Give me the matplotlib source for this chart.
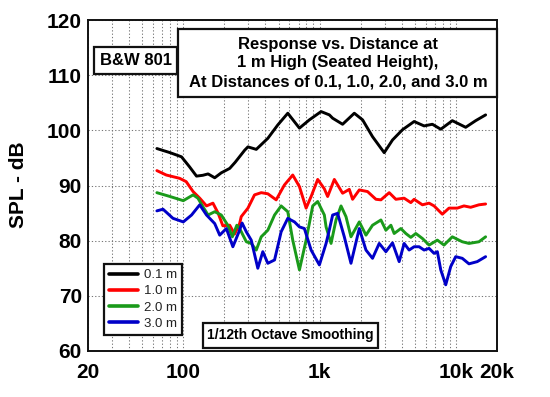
import matplotlib
matplotlib.use("Agg")
import matplotlib.pyplot as plt
from matplotlib.patches import Rectangle
from matplotlib.ticker import FixedLocator, NullFormatter, FixedFormatter

plt.rcParams['font.family'] = ['Liberation Sans', 'DejaVu Sans']

# ---------------- data ----------------
f_01 = [64, 80, 97, 111, 125, 139, 152, 170, 190, 219, 240, 282, 298, 343, 417, 493, 584,
        711, 841, 1025, 1179, 1246, 1474, 1796, 2066, 2444, 2976, 3424, 4050, 4934, 5838,
        6714, 7736, 9404, 11784, 13946, 16504]
db_01 = [96.7, 95.95, 95.2, 93.4, 91.7, 91.85, 92.1, 91.4, 92.3, 93.1, 94.2, 96.4, 97.0, 96.55,
         98.55, 100.97, 103.1, 100.4, 101.9, 103.4, 102.8, 102.2, 101.1, 103.1, 101.9, 98.85,
         95.95, 98.25, 100.1, 101.6, 100.8, 101.1, 100.2, 101.75, 100.55, 101.75, 102.8]

f_10 = [64, 75, 94, 105, 118, 132, 148, 165, 180, 195, 219, 238, 259, 266, 298, 333, 373, 417,
        480, 552, 635, 711, 796, 866, 968, 1083, 1145, 1282, 1474, 1651, 1745, 1954, 2246,
        2588, 2816, 3238, 3624, 4168, 4666, 4934, 5674, 6352, 6908, 7304, 7944, 8894, 10228,
        11450, 12820, 14744, 16504]
db_10 = [92.7, 91.9, 91.3, 90.7, 88.9, 87.7, 86.3, 86.8, 85.0, 82.7, 82.8, 81.2, 83.1, 84.35,
         85.9, 88.3, 88.7, 88.5, 87.4, 90.1, 91.9, 89.8, 85.9, 88.0, 91.1, 89.4, 88.0, 91.1,
         88.6, 89.3, 87.5, 89.2, 88.9, 87.5, 87.4, 88.7, 87.5, 87.7, 86.9, 87.5, 86.5, 86.8,
         86.3, 85.7, 84.8, 85.9, 85.9, 86.3, 86.05, 86.5, 86.65]

f_20 = [64, 80, 100, 118, 128, 139, 152, 170, 190, 212, 229, 247, 259, 290, 315, 343, 373, 417,
        467, 522, 584, 635, 711, 796, 890, 968, 1083, 1115, 1213, 1319, 1435, 1561, 1698, 1954,
        2187, 2444, 2816, 3062, 3332, 3522, 3944, 4290, 4666, 5076, 5674, 6352, 7304, 8176,
        9404, 11128, 12458, 14744, 16504]
db_20 = [88.7, 88.0, 87.25, 88.3, 87.7, 86.2, 84.65, 85.25, 84.65, 82.8, 80.7, 82.8, 82.2, 79.8,
         79.5, 78.3, 80.7, 81.9, 84.65, 86.3, 85.25, 80.1, 74.7, 80.1, 86.3, 87.1, 84.65, 82.5,
         79.5, 83.75, 86.3, 84.35, 80.7, 83.4, 81.0, 82.8, 83.75, 81.9, 82.8, 81.3, 82.2, 81.3,
         80.6, 81.3, 80.4, 79.2, 80.1, 79.2, 80.7, 79.8, 79.5, 79.8, 80.7]

f_30 = [64, 71, 84, 100, 115, 132, 148, 170, 185, 207, 231, 256, 270, 290, 315, 352, 383, 417,
        467, 522, 584, 654, 711, 773, 866, 996, 1115, 1179, 1246, 1355, 1517, 1698, 1954, 2187,
        2444, 2736, 3062, 3424, 3832, 4168, 4534, 4934, 5368, 5838, 6352, 6908, 7304, 7736,
        8414, 9152, 9958, 11128, 12458, 14326, 16504]
db_30 = [85.4, 85.7, 84.05, 83.4, 84.65, 86.5, 84.65, 83.1, 81.0, 82.2, 78.9, 81.6, 83.2, 81.6,
         80.1, 75.0, 78.0, 75.9, 76.5, 81.6, 84.05, 83.4, 82.5, 82.2, 78.3, 75.6, 79.5, 82.0,
         84.65, 84.95, 80.7, 75.9, 82.2, 78.3, 76.8, 79.5, 78.0, 79.6, 76.2, 79.5, 78.3, 78.9,
         78.9, 78.3, 78.6, 77.7, 78.0, 74.7, 72.0, 75.3, 77.1, 76.8, 75.8, 76.2, 77.1]

labels = ["0.1 m", "1.0 m", "2.0 m", "3.0 m"]
colors = ["#000000", "#ff0000", "#1a9a1a", "#0000c8"]

x_ticks = [20, 100, 1000, 10000, 20000]
x_tick_labels = ["20", "100", "1k", "10k", "20k"]
y_ticks = [60, 70, 80, 90, 100, 110, 120]

W, H = 550, 397
fig = plt.figure(figsize=(W / 100, H / 100), dpi=100)
fig.patch.set_facecolor("white")


def fx(px):
    return px / W


def fy(py):
    return 1 - py / H


ax = fig.add_axes([fx(88), fy(351), fx(497) - fx(88), fy(20) - fy(351)])
for f, d, c, lab in zip([f_01, f_10, f_20, f_30], [db_01, db_10, db_20, db_30], colors, labels):
    ax.plot(f, d, color=c, lw=2.1, label=lab, solid_joinstyle="round", solid_capstyle="round")

ax.set_xscale("log")
ax.set_xlim(20, 20000)
ax.set_ylim(60, 120)
ax.xaxis.set_major_locator(FixedLocator(x_ticks))
ax.xaxis.set_major_formatter(FixedFormatter(x_tick_labels))
minor = [m * 10 ** e for e in range(1, 5) for m in range(2, 10)]
minor = [v for v in minor if 20 < v < 20000 and v not in x_ticks]
ax.xaxis.set_minor_locator(FixedLocator(minor))
ax.xaxis.set_minor_formatter(NullFormatter())
ax.set_yticks(y_ticks)
ax.grid(True, which="both", axis="x", linestyle=(0, (1.2, 2.0)), color="#777777", lw=0.75)
ax.grid(True, which="major", axis="y", linestyle=(0, (1.2, 2.0)), color="#777777", lw=0.75)
ax.tick_params(which="both", length=0)
ax.tick_params(axis="x", pad=8.5, labelsize=15)
ax.tick_params(axis="y", pad=4.5, labelsize=15)
for lb in ax.get_xticklabels() + ax.get_yticklabels():
    lb.set_fontweight("bold")
for s in ax.spines.values():
    s.set_linewidth(1.4)
    s.set_color("#111111")

fig.text(fx(19), fy(185), "SPL - dB", rotation=90, ha="center", va="center",
         fontsize=15, fontweight="bold")


def box(x0, y0, x1, y1, lw=1.6):
    r = Rectangle((fx(x0), fy(y1)), fx(x1) - fx(x0), fy(y0) - fy(y1),
                  transform=fig.transFigure, facecolor="white", edgecolor="#111111",
                  lw=lw, zorder=5)
    fig.add_artist(r)


# title box
box(178, 29, 497, 97)
title_lines = ["Response vs. Distance at", "1 m High (Seated Height),",
               "At Distances of 0.1, 1.0, 2.0, and 3.0 m"]
for i, t in enumerate(title_lines):
    fig.text(fx(338), fy(44 + 19 * i), t, ha="center", va="center", fontsize=12,
             fontweight="bold", zorder=6)

# model box
box(94, 47, 177, 74)
fig.text(fx(135.5), fy(60.5), "B&W 801", ha="center", va="center", fontsize=12,
         fontweight="bold", zorder=6)

# smoothing box
box(203, 323, 378, 348)
fig.text(fx(290.5), fy(335.5), "1/12th Octave Smoothing", ha="center", va="center",
         fontsize=10, fontweight="bold", zorder=6)

leg = ax.legend(loc="lower left", bbox_to_anchor=(fx(104), fy(335)),
                bbox_transform=fig.transFigure, fontsize=9.5, frameon=True,
                fancybox=False, framealpha=1, edgecolor="#111111", handlelength=2.2,
                handletextpad=0.4, labelspacing=0.3, borderpad=0.4, borderaxespad=0,
                handleheight=0.7)
leg.get_frame().set_linewidth(1.6)
for t in leg.get_texts():
    t.set_color("#222222")
for h in leg.get_lines():
    h.set_linewidth(2.6)

fig.savefig("out.png", dpi=100, facecolor="white")
